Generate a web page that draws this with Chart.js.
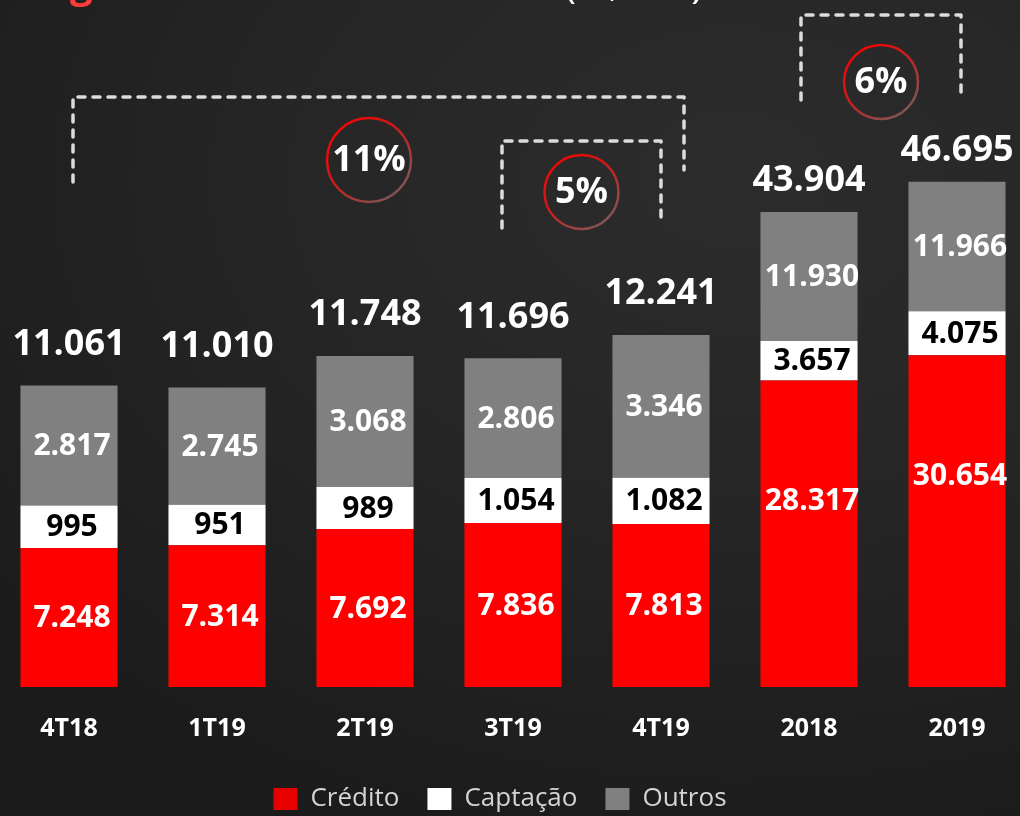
<!DOCTYPE html>
<html lang="pt-BR">
<head>
<meta charset="utf-8">
<title>Margem Financeira</title>
<script src="https://cdn.jsdelivr.net/npm/chart.js@4.4.1/dist/chart.umd.min.js"></script>
<style>
  html, body {
    margin: 0; padding: 0; width: 1020px; height: 816px; overflow: hidden;
    background: radial-gradient(ellipse 95% 85% at 72% 22%, #2c2c2c 0%, #262626 45%, #1b1b1b 100%);
  }
  #wrap { position: absolute; left: -5px; top: 0; width: 1036px; height: 822px; }
</style>
</head>
<body>
<div id="wrap"><canvas id="graficoMargem"></canvas></div>
<script>
// valores em R$ mil
var categorias = ['4T18', '1T19', '2T19', '3T19', '4T19', '2018', '2019'];
var credito  = [7248, 7314, 7692, 7836, 7813, 28317, 30654];
var captacao = [995, 951, 989, 1054, 1082, 3657, 4075];
var outros   = [2817, 2745, 3068, 2806, 3346, 11930, 11966];
var totais   = [11061, 11010, 11748, 11696, 12241, 43904, 46695];
var anual    = [false, false, false, false, false, true, true];
var crescimento = ['11%', '5%', '6%'];

var fonte = '"Open Sans", "Noto Sans", sans-serif';
Chart.defaults.font.family = fonte;

function fmt(v) {
    return String(v).replace(/\B(?=(\d{3})+(?!\d))/g, '.');
}
function trimestral(arr) {
    return arr.map(function (v, i) { return anual[i] ? null : v; });
}
function anuais(arr) {
    return arr.map(function (v, i) { return anual[i] ? v : null; });
}

var series = [
    { label: 'Crédito',  valores: credito,  cor: '#ff0000', texto: '#ffffff' },
    { label: 'Captação', valores: captacao, cor: '#ffffff', texto: '#000000' },
    { label: 'Outros',   valores: outros,   cor: '#808080', texto: '#ffffff' }
];

// trimestres e anos ficam em eixos separados (escalas diferentes)
var datasets = [];
['y', 'y2'].forEach(function (eixo) {
    series.forEach(function (s) {
        datasets.push({
            label: s.label,
            data: eixo === 'y' ? trimestral(s.valores) : anuais(s.valores),
            backgroundColor: s.cor,
            corTexto: s.texto,
            yAxisID: eixo,
            stack: 'total',
            borderWidth: 0,
            barPercentage: 0.656,
            categoryPercentage: 1
        });
    });
});

var rotulos = {
    id: 'rotulos',
    afterDatasetsDraw: function (chart) {
        var ctx = chart.ctx;
        var fundo = chart.chartArea.bottom;
        ctx.save();
        ctx.textAlign = 'center';
        ctx.textBaseline = 'middle';
        ctx.font = 'bold 30px ' + fonte;
        chart.data.datasets.forEach(function (ds, d) {
            var meta = chart.getDatasetMeta(d);
            ctx.fillStyle = ds.corTexto;
            meta.data.forEach(function (bar, i) {
                if (ds.data[i] == null) return;
                var base = Math.min(bar.base, fundo);
                var y = (bar.y + base) / 2 + 1;
                if (anual[i] && d === 3) y = bar.y + 121;
                ctx.fillText(fmt(ds.data[i]), bar.x + 3, y);
            });
        });
        ctx.font = 'bold 36px ' + fonte;
        ctx.fillStyle = '#ffffff';
        totais.forEach(function (t, i) {
            var bar = chart.getDatasetMeta(anual[i] ? 5 : 2).data[i];
            ctx.fillText(fmt(t), bar.x, bar.y - (anual[i] ? 31 : 41));
        });
        ctx.restore();
    }
};

var chaves = {
    id: 'chaves',
    afterLayout: function (chart) {
        // legenda um pouco deslocada para a esquerda, como no original
        chart.legend.left -= 13;
        chart.legend.right -= 13;
    },
    afterDraw: function (chart) {
        var ctx = chart.ctx;
        var px = function (i) { return chart.scales.x.getPixelForValue(i); };

        // titulo (cortado no topo)
        ctx.save();
        ctx.textBaseline = 'alphabetic';
        ctx.font = 'bold 40px ' + fonte;
        ctx.fillStyle = '#ff3b3b';
        ctx.textAlign = 'left';
        ctx.fillText('Margem', 75 - ctx.measureText('Mar').width, -2);
        ctx.fillStyle = '#ffffff';
        ctx.font = '40px ' + fonte;
        ctx.textAlign = 'right';
        ctx.fillText('Financeira Total (R$ mil)', 708, -2);
        ctx.restore();

        var grupos = [
            { esq: px(0) + 4,  dir: px(4) + 23, topo: 97,  fimEsq: 182, fimDir: 170, cx: px(2) + 4, cy: 160, r: 42 },
            { esq: px(3) - 11, dir: px(4),      topo: 141, fimEsq: 228, fimDir: 218, cx: null,      cy: 192, r: 37 },
            { esq: px(5) - 8,  dir: px(6) + 4,  topo: 15,  fimEsq: 100, fimDir: 93,  cx: null,      cy: 82,  r: 37 }
        ];
        ctx.save();
        grupos.forEach(function (g, k) {
            ctx.beginPath();
            ctx.setLineDash([7, 8]);
            ctx.lineWidth = 3.5;
            ctx.lineCap = 'round';
            ctx.lineJoin = 'round';
            ctx.strokeStyle = '#dcdcdc';
            ctx.moveTo(g.esq, g.fimEsq);
            ctx.lineTo(g.esq, g.topo);
            ctx.lineTo(g.dir, g.topo);
            ctx.lineTo(g.dir, g.fimDir);
            ctx.stroke();

            var cx = g.cx != null ? g.cx : (g.esq + g.dir) / 2;
            var grad = ctx.createLinearGradient(cx - g.r, g.cy - g.r, cx + g.r * 0.6, g.cy + g.r);
            grad.addColorStop(0, '#ff0000');
            grad.addColorStop(0.45, '#d01818');
            grad.addColorStop(1, '#7a5a5a');
            ctx.setLineDash([]);
            ctx.lineWidth = 2.5;
            ctx.strokeStyle = grad;
            ctx.beginPath();
            ctx.arc(cx, g.cy, g.r, 0, Math.PI * 2);
            ctx.stroke();

            ctx.fillStyle = '#ffffff';
            ctx.font = 'bold 36px ' + fonte;
            ctx.textAlign = 'center';
            ctx.textBaseline = 'middle';
            ctx.fillText(crescimento[k], cx, g.cy + 1);
        });
        ctx.restore();
    }
};

var ctx = document.getElementById('graficoMargem').getContext('2d');
var graficoMargem = new Chart(ctx, {
    type: 'bar',
    data: {
        labels: categorias,
        datasets: datasets
    },
    options: {
        responsive: true,
        maintainAspectRatio: false,
        animation: false,
        layout: { padding: { top: 87, left: 0, right: 0, bottom: 0 } },
        scales: {
            x: {
                stacked: true,
                grid: { display: false, drawTicks: false },
                border: { display: false },
                ticks: {
                    color: '#ffffff',
                    padding: 27,
                    font: { size: 25, weight: 'bold' }
                },
                afterFit: function (scale) { scale.height = 71; }
            },
            y: {
                display: false,
                stacked: true,
                min: 3990,
                max: 18055
            },
            y2: {
                display: false,
                stacked: true,
                min: 0,
                max: 55453
            }
        },
        plugins: {
            legend: {
                display: true,
                position: 'bottom',
                labels: {
                    color: '#d4d4d4',
                    boxWidth: 24,
                    boxHeight: 22,
                    padding: 28,
                    font: { size: 26 },
                    filter: function (item) { return item.datasetIndex < 3; },
                    generateLabels: function (chart) {
                        var items = Chart.defaults.plugins.legend.labels.generateLabels(chart);
                        items.forEach(function (it) {
                            if (it.text === 'Crédito') it.fillStyle = '#e60000';
                            it.lineWidth = 0;
                        });
                        return items;
                    }
                }
            },
            tooltip: { enabled: false }
        }
    },
    plugins: [rotulos, chaves]
});
</script>
</body>
</html>
